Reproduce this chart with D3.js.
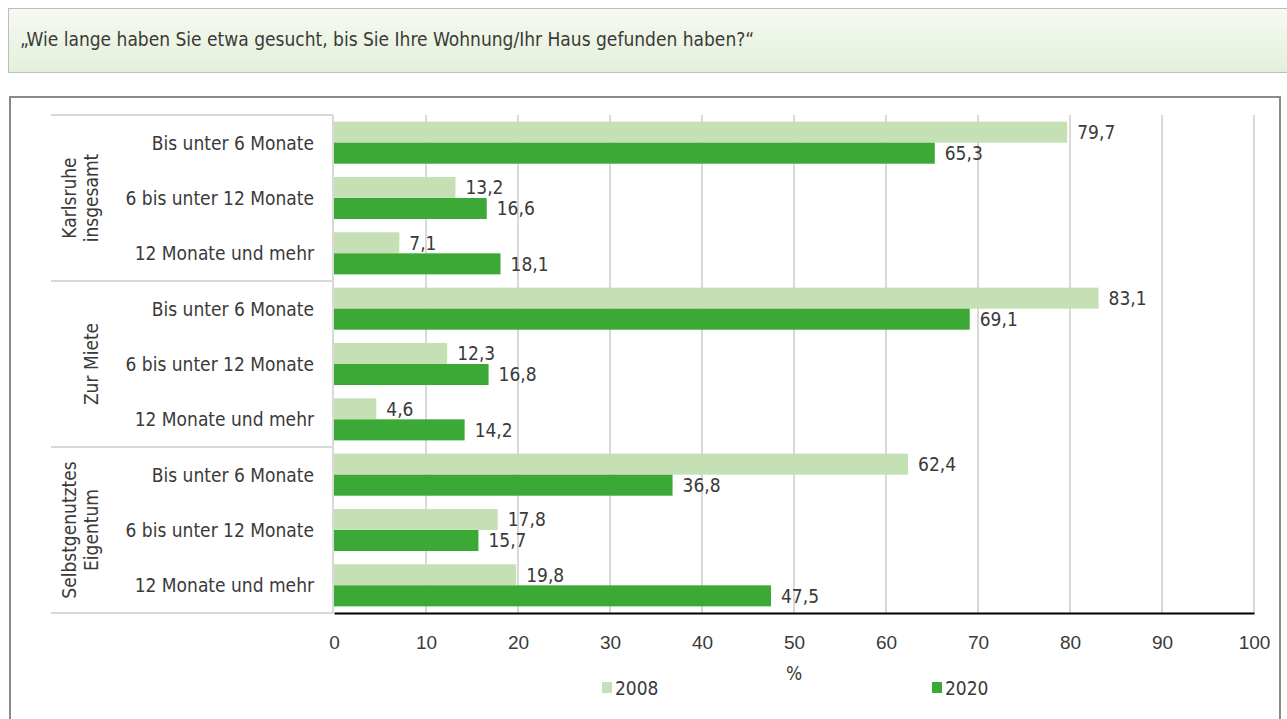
<!DOCTYPE html>
<html lang="de">
<head>
  <meta charset="UTF-8">
  <title>Wohnungssuche Dauer</title>
  <script src="https://d3js.org/d3.v7.min.js"></script>
  <style>
    body {
      margin: 0;
      background: #fff;
      font-family: "Liberation Sans Narrow", "DejaVu Sans Condensed", sans-serif;
    }
    text { fill: #3a3a3a; }
  </style>
</head>
<body>
  <svg width="1287" height="719"></svg>

  <script>
    // data
    const groups = ["Karlsruhe insgesamt", "Zur Miete", "Selbstgenutztes Eigentum"];
    const groupLines = [["Karlsruhe", "insgesamt"], ["Zur Miete"], ["Selbstgenutztes", "Eigentum"]];
    const durations = ["Bis unter 6 Monate", "6 bis unter 12 Monate", "12 Monate und mehr"];
    const series = ["2008", "2020"];
    const values2008 = [79.7, 13.2, 7.1, 83.1, 12.3, 4.6, 62.4, 17.8, 19.8];
    const values2020 = [65.3, 16.6, 18.1, 69.1, 16.8, 14.2, 36.8, 15.7, 47.5];
    const xTicks = [0, 10, 20, 30, 40, 50, 60, 70, 80, 90, 100];
    const colors = {"2008": "#c5e0b4", "2020": "#3ca836"};

    const svg = d3.select("svg");
    const fmt = v => d3.format(".1f")(v).replace(".", ",");

    // title box
    const grad = svg.append("defs").append("linearGradient")
      .attr("id", "tg").attr("x1", 0).attr("y1", 0).attr("x2", 0).attr("y2", 1);
    grad.append("stop").attr("offset", "0%").attr("stop-color", "#f6faf2");
    grad.append("stop").attr("offset", "100%").attr("stop-color", "#e3f0d9");
    svg.append("rect").attr("x", 8.5).attr("y", 8.5).attr("width", 1290).attr("height", 64)
      .attr("fill", "url(#tg)").attr("stroke", "#bdbdbd");
    svg.append("text").attr("x", 20).attr("y", 46)
      .style("font-size", "19px")
      .text("\u201EWie lange haben Sie etwa gesucht, bis Sie Ihre Wohnung/Ihr Haus gefunden haben?\u201C");

    // chart frame
    svg.append("rect").attr("x", 10).attr("y", 97).attr("width", 1270).attr("height", 640)
      .attr("fill", "#fff").attr("stroke", "#8a8a8a").attr("stroke-width", 2);

    const plotL = 334, plotR = 1254, plotT = 115, plotB = 613;

    const rows = [];
    groups.forEach((g, gi) => durations.forEach((d, di) => {
      const i = gi * durations.length + di;
      rows.push({key: i, group: g, gi, dur: d, "2008": values2008[i], "2020": values2020[i]});
    }));

    const x = d3.scaleLinear().domain([0, 100]).range([plotL, plotR]);
    const y = d3.scaleBand().domain(rows.map(r => r.key)).range([plotT, plotB])
      .paddingInner(0.24).paddingOuter(0.12);
    const ySub = d3.scaleBand().domain(series).range([0, y.bandwidth()]);
    const yGroup = d3.scaleBand().domain(groups).range([plotT, plotB]);

    // grid
    svg.append("g").selectAll("line").data(xTicks.filter(t => t > 0)).join("line")
      .attr("x1", d => x(d)).attr("x2", d => x(d))
      .attr("y1", plotT).attr("y2", plotB)
      .attr("stroke", "#d9d9d9").attr("stroke-width", 2);

    // category table lines
    const tbl = svg.append("g").attr("stroke", "#d9d9d9").attr("stroke-width", 2);
    groups.forEach(g => {
      tbl.append("line").attr("x1", 51).attr("x2", plotL - 1)
        .attr("y1", yGroup(g)).attr("y2", yGroup(g));
    });
    tbl.append("line").attr("x1", 51).attr("x2", plotL - 1).attr("y1", plotB).attr("y2", plotB);
    tbl.append("line").attr("x1", plotL - 1).attr("x2", plotL - 1).attr("y1", plotT).attr("y2", plotB);

    // bars
    const rowG = svg.append("g").selectAll("g").data(rows).join("g")
      .attr("transform", d => `translate(0,${y(d.key)})`);
    rowG.selectAll("rect").data(d => series.map(s => ({s, v: d[s]}))).join("rect")
      .attr("x", x(0)).attr("y", d => ySub(d.s))
      .attr("width", d => x(d.v) - x(0)).attr("height", ySub.bandwidth())
      .attr("fill", d => colors[d.s]);
    rowG.selectAll("text.val").data(d => series.map(s => ({s, v: d[s]}))).join("text")
      .attr("class", "val")
      .attr("x", d => x(d.v) + 10).attr("y", d => ySub(d.s) + ySub.bandwidth() / 2)
      .attr("dy", "0.36em")
      .style("font-size", "19px")
      .text(d => fmt(d.v));

    // category labels
    svg.append("g").selectAll("text").data(rows).join("text")
      .attr("x", 314).attr("y", d => y(d.key) + y.bandwidth() / 2)
      .attr("dy", "0.36em").attr("text-anchor", "end")
      .style("font-size", "19px")
      .text(d => d.dur);

    // group labels (rotated)
    groups.forEach((g, gi) => {
      const cy = yGroup(g) + yGroup.bandwidth() / 2;
      const lines = groupLines[gi];
      const t = svg.append("text")
        .attr("transform", `translate(${lines.length > 1 ? 76 : 98},${cy}) rotate(-90)`)
        .attr("text-anchor", "middle")
        .style("font-size", "19px");
      lines.forEach((l, li) => {
        t.append("tspan").attr("x", 0).attr("dy", li === 0 ? "0" : "1.15em").text(l);
      });
    });

    // x axis
    const ax = svg.append("g").attr("transform", `translate(0,${plotB})`)
      .call(d3.axisBottom(x).tickValues(xTicks).tickSize(0).tickPadding(23));
    ax.select(".domain").attr("stroke", "#000").attr("stroke-width", 2);
    ax.selectAll("text").style("font-size", "19px").style("font-family", "inherit").attr("fill", "#3a3a3a");

    svg.append("text").attr("x", (plotL + plotR) / 2).attr("y", 680)
      .attr("text-anchor", "middle").style("font-size", "19px").text("%");

    // legend
    const legendX = {"2008": 602, "2020": 932};
    const lg = svg.append("g").selectAll("g").data(series).join("g")
      .attr("transform", d => `translate(${legendX[d]},682)`);
    lg.append("rect").attr("width", 10).attr("height", 11).attr("fill", d => colors[d]);
    lg.append("text").attr("x", 13).attr("y", 6).attr("dy", "0.36em")
      .style("font-size", "19px").text(d => d);
  </script>
</body>
</html>
